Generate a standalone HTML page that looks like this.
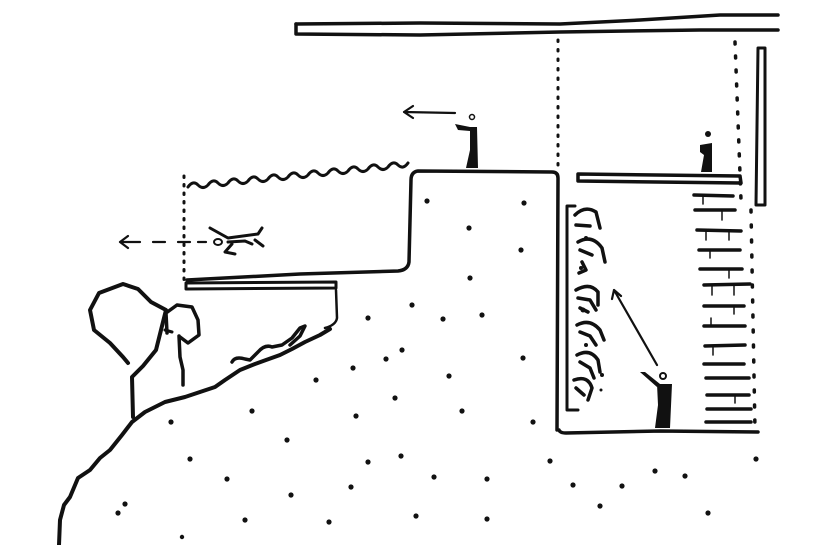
<!DOCTYPE html>
<html><head><meta charset="utf-8"><style>
html,body{margin:0;padding:0;background:#fff;}
svg{display:block;}
</style></head><body>
<svg width="818" height="545" viewBox="0 0 818 545" xmlns="http://www.w3.org/2000/svg">
<g fill="none" stroke="#111" stroke-linecap="round" stroke-linejoin="round">
<!-- roof -->
<path d="M296 24 L420 23 L560 24 L640 20 L720 15 L778 15" stroke-width="3.5"/>
<path d="M296 24 L296 34 L420 35 L560 32 L700 30 L778 30" stroke-width="3.5"/>
<!-- right column -->
<path d="M758 48 L765 48 L765 205 L756 205 Z" stroke-width="3"/>
<!-- dotted verticals -->
<path d="M558 40 L558 168" stroke-width="3" stroke-dasharray="1.5 8"/>
<path d="M735 42 L741 200" stroke-width="3.5" stroke-dasharray="2 12"/>
<path d="M751 210 L755 430" stroke-width="3.5" stroke-dasharray="2 13"/>
<path d="M184 176 L184 280" stroke-width="3" stroke-dasharray="1.5 7"/>
<!-- platform -->
<path d="M578 174 L740 176 L741 183 L578 181 Z" stroke-width="3.5"/>
<!-- central block -->
<path d="M557 430 L558 178 Q558 172 552 172 L418 171 Q411 172 411 180 L409 262 Q408 270 398 271 L300 274 L187 280" stroke-width="3.5"/>
<!-- waves -->
<path d="M188 187 q5 -7 10 -2 q5 5 10 0 q5 -7 10 -2 q5 5 10 0 q5 -7 10 -2 q5 5 10 0 q5 -7 10 -2 q5 5 10 0 q5 -7 10 -2 q5 5 10 0 q5 -7 10 -2 q5 5 10 0 q5 -7 10 -2 q5 5 10 0 q5 -7 10 -2 q5 5 10 0 q5 -7 10 -2 q5 5 10 0 q5 -7 10 -2 q5 5 10 0 q5 -7 10 -2 q5 5 10 -2" stroke-width="3"/>
<!-- under pool slab -->
<path d="M186 283 L336 282 L336 288 L186 289 Z" stroke-width="3"/>
<path d="M336 290 L337 318 Q336 325 325 328" stroke-width="2.5"/>
<!-- lower room -->
<path d="M559 430 Q560 433 566 433 L660 431 L758 432" stroke-width="3.5"/>
<path d="M575 206 L567 206 L567 410 L578 410" stroke-width="3"/>
<!-- ladder -->
<g stroke-width="3.5">
<path d="M694 195 L733 196"/><path d="M695 210 L735 210"/><path d="M697 230 L741 231"/>
<path d="M699 250 L740 250"/><path d="M700 269 L742 269"/><path d="M704 285 L750 284"/>
<path d="M704 306 L744 306"/><path d="M704 326 L745 326"/><path d="M705 346 L745 345"/>
<path d="M704 364 L744 364"/><path d="M706 378 L749 378"/><path d="M707 395 L749 395"/>
<path d="M707 409 L751 409"/><path d="M706 422 L751 422"/>
</g>
<g stroke-width="1.5">
<path d="M703 195 L703 204"/><path d="M722 210 L722 220"/><path d="M706 231 L706 240"/><path d="M729 231 L729 240"/>
<path d="M710 250 L710 258"/><path d="M729 269 L729 278"/><path d="M712 285 L712 295"/><path d="M734 285 L734 295"/>
<path d="M711 326 L711 318"/><path d="M734 306 L734 314"/><path d="M713 346 L713 355"/><path d="M735 395 L735 403"/>
</g>
<!-- hill -->
<path d="M59 545 L60 520 L64 505 L70 497 L78 478 L90 470 L100 458 L110 450 L122 435 L132 422 L145 412 L165 402 L185 397 L200 392 L215 387 L225 380 L240 370 L255 364 L266 360 L280 355 L292 349 L305 342 L320 335 L330 329" stroke-width="4"/>
<path d="M232 362 Q235 356 245 359 L250 360 L258 352 Q265 344 272 347 L282 345 L292 338 L300 328 L305 326 L300 336 L290 345" stroke-width="3.5"/>
<!-- trees -->
<path d="M128 363 L123 357 L110 343 L94 330 L90 310 L99 293 L123 284 L138 289 L151 302 L166 310 L161 330 L156 350 L143 366 L132 377 L133 417" stroke-width="4"/>
<path d="M167 333 L166 313 L177 305 L192 307 L198 320 L199 335 L188 343 L180 337 M179 336 L180 357 L183 370 L183 385" stroke-width="3.5"/>
<path d="M165 330 L172 332" stroke-width="3"/>
<!-- arrows -->
<path d="M455 113 L404 112 M413 106 L404 112 L413 118" stroke-width="2.2"/>
<path d="M120 242 L140 242 M153 242 L165 242 M178 242 L190 242 M198 242 L206 242 M128 236 L120 242 L128 248" stroke-width="2.2"/>
<path d="M657 365 L614 290 M612 299 L614 290 L621 296" stroke-width="2.2"/>
<!-- plane -->
<ellipse cx="218" cy="242" rx="4" ry="3" stroke-width="2"/>
<path d="M210 228 L228 238 L258 234 L262 228 M255 240 L263 246 M228 242 L245 241 L252 244 M232 244 L225 252 L235 254" stroke-width="3"/>
</g>
<g fill="#111">
<!-- person top -->
<circle cx="472" cy="117" r="2.5" fill="none" stroke="#111" stroke-width="1.5"/>
<path d="M470 127 L477 127 L478 168 L466 168 L470 150 Z"/>
<path d="M470 127 L455 124 L458 130 L470 131 Z"/>
<!-- person platform -->
<circle cx="708" cy="134" r="3"/>
<path d="M700 145 L712 143 L712 172 L701 172 L704 155 L700 152 Z"/>
<!-- person lower -->
<circle cx="663" cy="376" r="3" fill="none" stroke="#111" stroke-width="2"/>
<path d="M657 384 L672 384 L670 428 L655 428 L658 405 Z"/>
<path d="M657 387 L640 372 L645 372 L660 384 Z"/>
</g>
<!-- crowd -->
<g fill="none" stroke="#111" stroke-width="3.5" stroke-linecap="round" stroke-linejoin="round">
<path d="M575 215 Q585 205 596 212 L600 228 M576 225 L590 226"/>
<path d="M578 242 Q592 234 602 248 L605 262 M580 250 L592 255 M582 262 L586 270 L579 273"/>
<path d="M576 290 Q590 282 598 292 L598 305 M578 298 L590 300 L596 310 M580 308 L588 312"/>
<path d="M577 325 Q590 318 600 330 L604 340 M580 332 L590 336 L596 345"/>
<path d="M577 355 Q590 348 598 360 L600 372 M580 362 L590 368 L594 378"/>
<path d="M574 380 Q588 375 592 388 L588 400 M576 388 L584 395"/>
</g>
<g fill="#111">
<circle cx="586" cy="238" r="2"/><circle cx="581" cy="268" r="2"/><circle cx="583" cy="310" r="2.5"/>
<circle cx="586" cy="345" r="2"/><circle cx="602" cy="375" r="2"/><circle cx="601" cy="390" r="1.5"/>
<!-- dots -->
<g>
<circle cx="427" cy="201" r="2.6"/><circle cx="524" cy="203" r="2.6"/><circle cx="469" cy="228" r="2.6"/>
<circle cx="521" cy="250" r="2.6"/><circle cx="470" cy="278" r="2.6"/><circle cx="412" cy="305" r="2.6"/>
<circle cx="443" cy="319" r="2.6"/><circle cx="482" cy="315" r="2.6"/><circle cx="402" cy="350" r="2.6"/>
<circle cx="523" cy="358" r="2.6"/><circle cx="449" cy="376" r="2.6"/><circle cx="462" cy="411" r="2.6"/>
<circle cx="533" cy="422" r="2.6"/><circle cx="368" cy="318" r="2.6"/><circle cx="386" cy="359" r="2.6"/>
<circle cx="353" cy="368" r="2.6"/><circle cx="316" cy="380" r="2.6"/><circle cx="395" cy="398" r="2.6"/>
<circle cx="356" cy="416" r="2.6"/><circle cx="252" cy="411" r="2.6"/><circle cx="171" cy="422" r="2.6"/>
<circle cx="287" cy="440" r="2.6"/><circle cx="190" cy="459" r="2.6"/>
<circle cx="368" cy="462" r="2.6"/><circle cx="401" cy="456" r="2.6"/><circle cx="550" cy="461" r="2.6"/>
<circle cx="756" cy="459" r="2.6"/><circle cx="227" cy="479" r="2.6"/><circle cx="434" cy="477" r="2.6"/>
<circle cx="487" cy="479" r="2.6"/><circle cx="351" cy="487" r="2.6"/><circle cx="573" cy="485" r="2.6"/>
<circle cx="622" cy="486" r="2.6"/><circle cx="655" cy="471" r="2.6"/><circle cx="685" cy="476" r="2.6"/>
<circle cx="291" cy="495" r="2.6"/><circle cx="125" cy="504" r="2.6"/><circle cx="118" cy="513" r="2.6"/>
<circle cx="245" cy="520" r="2.6"/><circle cx="329" cy="522" r="2.6"/><circle cx="416" cy="516" r="2.6"/>
<circle cx="487" cy="519" r="2.6"/><circle cx="600" cy="506" r="2.6"/><circle cx="708" cy="513" r="2.6"/>
<circle cx="182" cy="537" r="2.2"/>
</g>
</g>
</svg>
</body></html>
